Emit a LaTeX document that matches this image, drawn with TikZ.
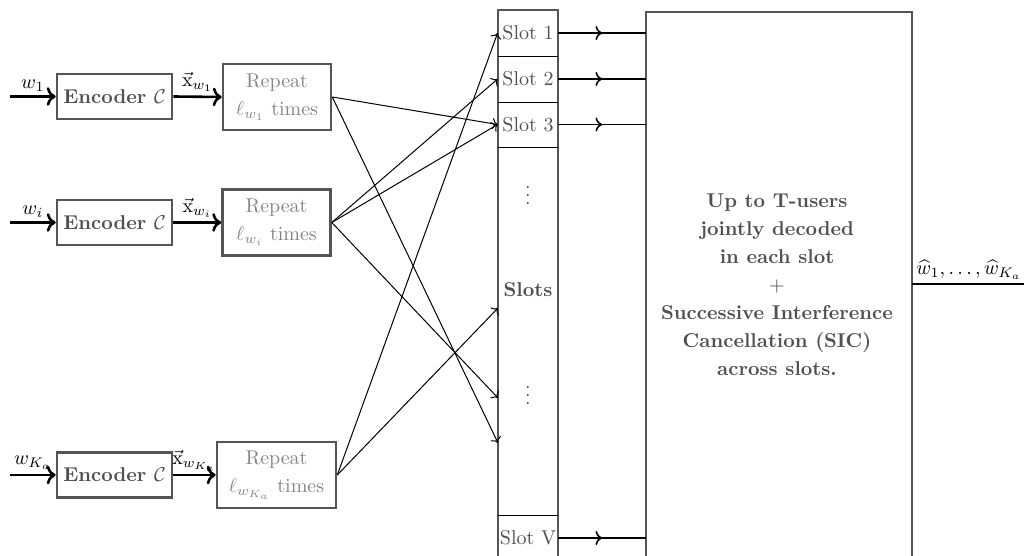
\documentclass[tikz,border=0pt]{standalone}
\usetikzlibrary{arrows.meta,decorations.markings,calc}
\definecolor{bordergray}{HTML}{555555}
\definecolor{textgray}{HTML}{505050}
\definecolor{lighttext}{HTML}{858585}
\begin{document}
\begin{tikzpicture}[x=0.5pt,y=-0.5pt,
  enc/.style={draw=bordergray, line width=1.3pt, minimum width=57.5pt, minimum height=22.5pt, inner sep=0pt, font=\bfseries, text=textgray},
  rep/.style={draw=bordergray, line width=1.3pt, minimum width=54pt, minimum height=33pt, inner sep=0pt, text=lighttext, align=center},
  thickarrow/.style={->, line width=1.3pt},
  thinarrow/.style={->, line width=0.5pt},
  slotcell/.style={minimum width=30pt, inner sep=0pt, text=textgray},
  divider/.style={line width=0.6pt},
  colbox/.style={draw=bordergray, line width=1.2pt},
  midarrow/.style={line width=0.8pt, decoration={markings, mark=at position 0.5 with {\arrow{>}}}, postaction={decorate}},
  bigtext/.style={font=\bfseries, text=textgray, align=center}
]
\useasboundingbox (0,0) rectangle (1024,556);

% encoders and repeaters
\node[enc] (e1) at (114.5,96.5) {Encoder $\mathcal{C}$};
\node[enc] (ei) at (114.5,222.5) {Encoder $\mathcal{C}$};
\node[enc] (ek) at (114.5,475) {Encoder $\mathcal{C}$};
\node[rep] (r1) at (277,97) {Repeat\\[2pt] $\ell_{w_1}$ times};
\node[rep] (ri) at (276.5,222.5) {Repeat\\[2pt] $\ell_{w_i}$ times};
\node[rep, minimum width=59.5pt] (rk) at (276.5,475) {Repeat\\[2pt] $\ell_{w_{K_a}}$ times};

\coordinate (in1) at (10,96.5);
\coordinate (ini) at (10,222.5);
\coordinate (ink) at (10,475);
\draw[thickarrow] (in1) -- node[above, inner sep=2pt] (lw1) {$w_1$} (e1.west);
\draw[thickarrow] (ini) -- node[above, inner sep=2pt] (lwi) {$w_i$} (ei.west);
\draw[thickarrow] (ink) -- node[above, inner sep=2pt] (lwk) {$w_{K_a}$} (ek.west);
\draw[thickarrow] (e1.east) -- node[above, inner sep=2pt] (lx1) {$\vec{\mathrm{x}}_{w_1}$} (r1.west);
\draw[thickarrow] (ei.east) -- node[above, inner sep=2pt] (lxi) {$\vec{\mathrm{x}}_{w_i}$} (ri.west);
\draw[thickarrow] (ek.east) -- node[above, inner sep=1pt] (lxk) {$\vec{\mathrm{x}}_{w_{K_a}}$} (rk.west);

% slot column
\coordinate (colNW) at (498,10);
\coordinate (colSE) at (558,562);
\draw[colbox] (colNW) rectangle (colSE);
\node[slotcell, minimum height=23pt] (s1) at (528,33) {Slot 1};
\node[slotcell, minimum height=22.75pt] (s2) at (528,79) {Slot 2};
\node[slotcell, minimum height=23pt] (s3) at (528,124.5) {Slot 3};
\node[slotcell, minimum height=22pt] (sV) at (528,538) {Slot V};
\draw[divider] (s1.south west) -- (s1.south east);
\draw[divider] (s2.south west) -- (s2.south east);
\draw[divider] (s3.south west) -- (s3.south east);
\draw[divider] (sV.north west) -- (sV.north east);
\node[text=textgray] (d1) at (528,189) {$\vdots$};
\node[text=textgray, font=\bfseries] (slotslbl) at (528,290) {Slots};
\node[text=textgray] (d2) at (528,389) {$\vdots$};

\coordinate (t4) at (498,308);
\coordinate (t5) at (498,398);
\coordinate (t6) at (498,443);

% crossing connections
\draw[thinarrow] (r1.east) -- (s3.west);
\draw[thinarrow] (r1.east) -- (t6);
\draw[thinarrow] (ri.east) -- (s2.west);
\draw[thinarrow] (ri.east) -- (s3.west);
\draw[thinarrow] (ri.east) -- (t5);
\draw[thinarrow] (rk.east) -- (s1.west);
\draw[thinarrow] (rk.east) -- (t4);

% decoder box
\coordinate (decNW) at (646,12);
\coordinate (decSE) at (912,562);
\coordinate (decW) at (646,284);
\coordinate (decE) at (912,284);
\draw[colbox] (decNW) rectangle (decSE);
\node[bigtext] (dectext) at (777,285) {Up to T-users\\[2pt] jointly decoded\\[2pt] in each slot\\[2pt] $+$\\[2pt] Successive Interference\\[2pt] Cancellation (SIC)\\[2pt] across slots.};

\draw[midarrow] (s1.east) -- (s1.east -| decW);
\draw[midarrow] (s2.east) -- (s2.east -| decW);
\draw[midarrow] (s3.east) -- (s3.east -| decW);
\draw[midarrow] (sV.east) -- (sV.east -| decW);

% output
\coordinate (out) at (1024,284);
\draw[line width=1.3pt] (decE) -- (out);
\node[anchor=south west, inner sep=2pt] (outlbl) at (decE) {$\widehat{w}_1,\ldots,\widehat{w}_{K_a}$};
\end{tikzpicture}
\end{document}
